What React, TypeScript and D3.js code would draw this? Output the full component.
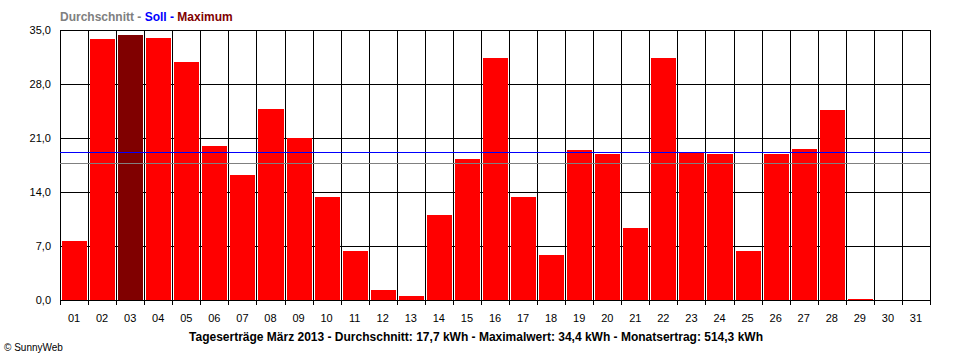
import React from "react";
import * as d3 from "d3";

const days = ["01","02","03","04","05","06","07","08","09","10","11","12","13","14","15","16","17","18","19","20","21","22","23","24","25","26","27","28","29","30","31"];
const values = [7.6,33.8,34.4,33.9,30.8,20.0,16.2,24.8,21.0,13.3,6.4,1.3,0.5,11.0,18.3,31.4,13.3,5.8,19.4,18.9,9.3,31.4,19.0,18.9,6.4,18.9,19.6,24.6,0.1,0,0];
const yTicks = [0, 7, 14, 21, 28, 35];
const average = 17.7;
const target = 19.2;
const maxValue = 34.4;
const title = "Tageserträge März 2013 - Durchschnitt: 17,7 kWh - Maximalwert: 34,4 kWh - Monatsertrag: 514,3 kWh";

export default function App() {
  const W = 960, H = 360;
  const left = 60, right = 930, top = 30, bottom = 300;
  const x = d3.scaleBand<string>().domain(days).range([left, right]).padding(0);
  const y = d3.scaleLinear().domain([0, 35]).range([bottom, top]);
  const bw = x.bandwidth();
  const fmt = (v: number) => v.toFixed(1).replace(".", ",");
  const r = (v: number) => Math.round(v) + 0.5;
  const boundaries = d3.range(days.length + 1).map((i) => left + i * bw);

  return (
    <svg width={W} height={H} style={{ position: "absolute", left: 0, top: 0, background: "#fff" }}
      fontFamily="'Liberation Sans', Arial, sans-serif">
      <rect x={0} y={0} width={W} height={H} fill="#fff" />
      {/* legend */}
      <text x={60} y={21} fontSize={12} fontWeight="bold" fontFamily="'Liberation Sans Narrow', 'Liberation Sans', sans-serif">
        <tspan fill="#808080">Durchschnitt - </tspan>
        <tspan fill="#0000ff">Soll - </tspan>
        <tspan fill="#800000">Maximum</tspan>
      </text>
      {/* horizontal grid */}
      {yTicks.map((t) => (
        <g key={"y" + t}>
          <line x1={left} x2={right} y1={r(y(t))} y2={r(y(t))} stroke="#000" strokeWidth={1} />
          <text x={51} y={y(t) + 4} textAnchor="end" fontSize={11} fill="#000">{fmt(t)}</text>
        </g>
      ))}
      {/* vertical grid + ticks */}
      {boundaries.map((bx, i) => (
        <line key={"v" + i} x1={r(bx)} x2={r(bx)} y1={top} y2={bottom + 5} stroke="#000" strokeWidth={1} />
      ))}
      {/* bars */}
      {days.map((d, i) => {
        const v = values[i];
        if (v <= 0) return null;
        const x0 = Math.round(x(d)!) + 2;
        const x1 = Math.round(x(d)! + bw) - 1;
        const yt = Math.round(y(v));
        return (
          <rect key={"b" + d} x={x0} y={yt} width={x1 - x0} height={Math.max(1, Math.round(y(0)) - yt)}
            fill={v === maxValue ? "#800000" : "#ff0000"} />
        );
      })}
      {/* target and average lines */}
      <line x1={left} x2={right} y1={r(y(target))} y2={r(y(target))} stroke="#0000ff" strokeWidth={1} />
      <line x1={left} x2={right} y1={r(y(average))} y2={r(y(average))} stroke="#808080" strokeWidth={1} />
      {/* x labels */}
      {days.map((d) => (
        <text key={"l" + d} x={x(d)! + bw / 2} y={322} textAnchor="middle" fontSize={11} fill="#000">{d}</text>
      ))}
      {/* title */}
      <text x={476} y={341} textAnchor="middle" fontSize={12} fontWeight="bold"
        fontFamily="'Liberation Sans Narrow', 'Liberation Sans', sans-serif" fill="#000">{title}</text>
      <text x={4} y={351} fontSize={10} fill="#000">© SunnyWeb</text>
    </svg>
  );
}
